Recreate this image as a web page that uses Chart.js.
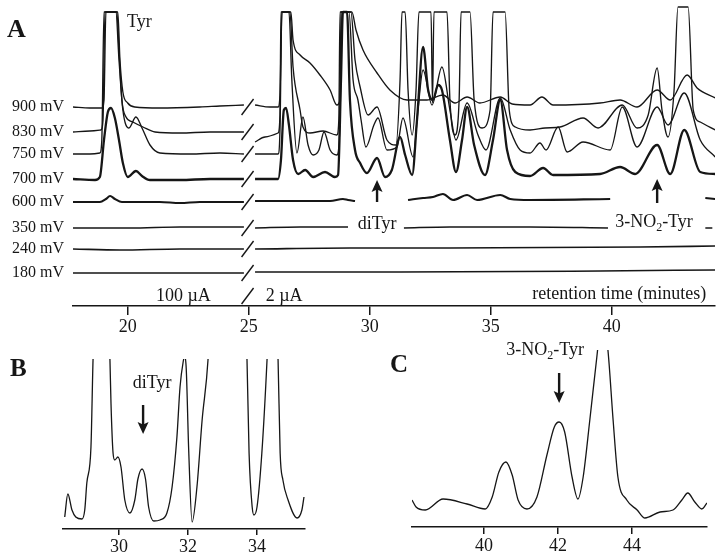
<!DOCTYPE html>
<html>
<head>
<meta charset="utf-8">
<script src="https://cdn.jsdelivr.net/npm/chart.js@4.4.1/dist/chart.umd.min.js"></script>
<style>
  html, body { margin: 0; padding: 0; background: #fff; }
  body { width: 720px; height: 556px; position: relative; overflow: hidden; }
  canvas { position: absolute; }
  #chartA { left: 0; top: 0; }
  #chartB { left: 0; top: 340px; }
  #chartC { left: 360px; top: 340px; }
</style>
</head>
<body>
<canvas id="chartA" width="720" height="340"></canvas>
<canvas id="chartB" width="360" height="216"></canvas>
<canvas id="chartC" width="360" height="216"></canvas>
<script>
// retention time (min) vs detector signal (arbitrary units, traces stacked)
// null = break in the trace (axis break / label gaps)

const ticksA = [20, 25, 30, 35, 40];
const ticksB = [30, 32, 34];
const ticksC = [40, 42, 44];

const traceLabels = ["900 mV", "830 mV", "750 mV", "700 mV", "600 mV", "350 mV", "240 mV", "180 mV"];
const baselines = [199, 174, 152, 127, 104, 78, 57, 33];

const tr900 = [[17.74,199],[18.44,198],[18.93,198],[19.02,206],[19.10,294],[19.59,294],[19.68,246],[19.80,214],[20.00,203],[20.29,199],[21.33,198],[22.98,199],[23.81,200],[24.80,201],[25.0,null],
  [25.26,201],[25.88,199],[26.21,199],[26.29,211],[26.37,294],[26.74,294],[26.83,266],[27.12,251],[27.53,243],[27.94,231],[28.36,216],[28.64,201],[28.77,206],[28.81,294],[29.26,294],[29.43,276],[29.72,256],[30.30,233],[30.83,216],[31.54,206],[32.36,206],[33.02,211],[33.52,203],[34.02,209],[34.55,203],[35.39,209],[35.88,202],[36.62,201],[37.11,209],[37.57,201],[39.51,203],[40.34,206],[41.04,199],[41.87,216],[42.41,206],[43.11,231],[43.52,218],[44.27,208]];

const tr830 = [[17.74,174],[18.44,175],[18.89,176],[18.98,186],[19.06,294],[19.55,294],[19.64,256],[19.76,206],[19.93,189],[20.21,184],[20.63,179],[21.13,174],[22.16,173],[23.40,174],[24.80,174],[25.0,null],
  [25.26,164],[25.67,169],[26.21,173],[26.29,191],[26.33,294],[26.70,294],[26.83,239],[27.12,196],[27.24,179],[27.53,173],[28.07,175],[28.64,171],[28.72,186],[28.77,294],[29.22,294],[29.39,246],[29.60,219],[29.93,191],[30.30,199],[30.71,166],[31.08,161],[31.25,226],[31.33,294],[31.46,294],[31.58,216],[31.75,171],[31.91,216],[32.03,294],[32.53,294],[32.59,203],[32.65,294],[33.19,294],[33.31,206],[33.52,171],[33.69,206],[33.77,294],[34.14,294],[34.31,206],[34.64,178],[34.97,196],[35.09,294],[35.59,294],[35.76,196],[36.01,179],[36.62,176],[37.24,178],[37.86,179],[38.81,188],[39.43,178],[40.43,201],[41.04,178],[41.50,191],[41.87,238],[42.07,196],[42.32,169],[42.57,216],[42.73,299],[43.15,299],[43.36,196],[43.65,184],[44.27,176]];

const tr750 = [[17.74,152],[18.44,152],[18.85,153],[18.93,166],[19.02,294],[19.51,294],[19.64,246],[19.80,196],[20.05,178],[20.34,189],[20.59,178],[20.92,161],[21.33,153],[22.57,152],[23.81,153],[24.80,152],[25.0,null],
  [25.26,152],[26.21,152],[26.29,176],[26.37,294],[26.66,294],[26.78,226],[26.99,153],[27.24,189],[27.45,161],[27.66,151],[27.90,156],[28.11,174],[28.36,156],[28.64,151],[28.77,186],[28.85,294],[29.14,294],[29.31,226],[29.51,206],[29.64,186],[29.84,159],[30.17,181],[30.34,188],[30.71,156],[31.12,159],[31.37,188],[31.79,149],[31.99,196],[32.20,236],[32.57,201],[32.98,239],[33.31,196],[33.56,166],[34.02,203],[34.47,171],[34.80,156],[35.39,208],[35.80,176],[36.21,156],[36.62,153],[37.03,163],[37.28,156],[37.78,179],[38.15,154],[38.81,164],[39.93,156],[40.43,199],[41.04,159],[41.87,199],[42.32,181],[42.99,213],[43.65,166],[44.27,149]];

const tr700 = [[17.74,127],[18.65,126],[18.85,129],[19.02,166],[19.18,194],[19.31,198],[19.47,188],[19.64,166],[19.80,143],[20.00,129],[20.34,135],[20.59,130],[20.92,126],[22.16,126],[23.40,127],[24.80,127],[25.0,null],
  [25.26,127],[26.21,127],[26.33,146],[26.45,196],[26.54,198],[26.66,181],[26.83,146],[27.04,132],[27.33,136],[27.66,129],[28.15,134],[28.56,129],[28.69,131],[28.81,226],[28.89,294],[29.06,294],[29.18,206],[29.39,156],[29.60,143],[29.88,133],[30.30,148],[30.63,129],[30.91,136],[31.25,169],[31.46,151],[31.75,131],[31.95,186],[32.20,259],[32.41,216],[32.61,206],[32.82,221],[32.98,216],[33.31,166],[33.56,134],[33.81,166],[34.02,199],[34.31,161],[34.76,131],[35.09,166],[35.39,206],[35.67,156],[36.01,134],[36.62,130],[37.16,138],[37.57,131],[39.51,132],[40.34,139],[40.96,132],[41.87,161],[42.41,132],[42.99,176],[43.65,134],[44.27,132]];

const tr600 = [[17.74,104],[18.85,104],[19.10,107],[19.27,110],[19.47,107],[19.76,104],[21.33,104],[22.16,103],[22.98,104],[24.80,104],[25.0,null],
  [25.26,105],[27.12,105],[28.36,105],[28.89,107],[29.10,106],[29.39,105],[30.0,null],
  [31.58,106],[32.20,108],[32.61,109],[33.02,112],[33.44,106],[34.02,111],[34.43,106],[35.39,111],[35.80,107],[36.62,106],[39.93,107],[42.0,null],
  [43.86,108],[44.27,107]];

const tr350 = [[17.74,78],[20.09,78],[22.16,79],[24.80,79],[25.0,null],[25.26,78],[27.12,79],[29.10,79],[30.0,null],[31.41,78],[33.31,79],[36.62,79],[39.84,78],[42.0,null],[43.86,78],[44.15,78]];
const tr240 = [[17.74,57],[19.68,56],[22.16,57],[24.80,57],[25.0,null],[25.26,57],[29.18,58],[33.31,58],[41.17,59],[44.27,60]];
const tr180 = [[17.74,33],[20.92,33],[24.80,33],[25.0,null],[25.26,34],[31.25,34],[39.51,35],[44.27,36]];

// panel B: expanded view around diTyr (peaks run off the top)
const trB = [[28.43,12],[28.52,35],[28.64,19],[28.75,12],[28.93,10],[29.01,19],[29.07,46],[29.19,82],[29.25,169],[29.35,260],[29.5,300],[29.65,260],[29.74,169],[29.77,126],[29.83,76],[29.88,69],[29.97,72],[30.06,62],[30.17,29],[30.32,16],[30.46,29],[30.55,50],[30.67,60],[30.77,50],[30.86,22],[31.01,8],[31.19,9],[31.39,16],[31.54,42],[31.68,92],[31.77,142],[31.86,167],[31.90,172],[31.95,160],[32.02,80],[32.12,7],[32.26,42],[32.41,109],[32.58,169],[32.7,260],[33.1,300],[33.6,260],[33.71,169],[33.77,76],[33.86,22],[33.91,14],[34.0,22],[34.14,76],[34.29,169],[34.4,260],[34.5,260],[34.61,169],[34.67,76],[34.75,49],[34.90,29],[35.16,11],[35.30,19],[35.36,32]];

// panel C: expanded view around 3-NO2-Tyr
const trC = [[38.05,27],[38.16,20],[38.41,17],[38.89,28],[39.54,23],[40.03,18],[40.22,30],[40.40,55],[40.59,65],[40.76,52],[40.92,27],[41.16,18],[41.43,30],[41.70,72],[41.90,100],[42.03,105],[42.18,95],[42.38,50],[42.54,28],[42.68,50],[42.86,107],[43.05,170],[43.2,215],[43.35,177],[43.49,107],[43.62,50],[43.86,27],[44.14,17],[44.35,9],[44.76,15],[45.11,17],[45.35,27],[45.51,34],[45.70,25],[45.89,18],[46.03,24]];

const SERIF = "'Liberation Serif', 'Times New Roman', serif";
const INK = "#161616";

const toXY = (arr) => arr.map(([x, y]) => ({ x: x, y: y }));

function line(data, width) {
  return {
    data: toXY(data),
    borderColor: INK,
    borderWidth: width,
    pointRadius: 0,
    fill: false,
    cubicInterpolationMode: "monotone",
    spanGaps: false,
  };
}

function text(ctx, str, x, y, size, align, bold) {
  ctx.save();
  ctx.font = (bold ? "bold " : "") + size + "px " + SERIF;
  ctx.fillStyle = INK;
  ctx.textAlign = align || "left";
  ctx.textBaseline = "middle";
  ctx.fillText(str, x, y);
  ctx.restore();
}

// "3-NO2-Tyr" with a subscript 2
function nitroLabel(ctx, cx, cy, size) {
  ctx.save();
  ctx.fillStyle = INK;
  ctx.textBaseline = "middle";
  ctx.textAlign = "left";
  const big = size + "px " + SERIF;
  const small = Math.round(size * 0.68) + "px " + SERIF;
  ctx.font = big;
  const w1 = ctx.measureText("3-NO").width;
  const w3 = ctx.measureText("-Tyr").width;
  ctx.font = small;
  const w2 = ctx.measureText("2").width;
  let x = cx - (w1 + w2 + w3) / 2;
  ctx.font = big;
  ctx.fillText("3-NO", x, cy);
  x += w1;
  ctx.font = small;
  ctx.fillText("2", x, cy + size * 0.3);
  x += w2;
  ctx.font = big;
  ctx.fillText("-Tyr", x, cy);
  ctx.restore();
}

function arrow(ctx, x, yTail, yTip) {
  const dir = yTip < yTail ? -1 : 1;
  ctx.save();
  ctx.strokeStyle = INK;
  ctx.fillStyle = INK;
  ctx.lineWidth = 2.4;
  ctx.beginPath();
  ctx.moveTo(x, yTail);
  ctx.lineTo(x, yTip - dir * 7);
  ctx.stroke();
  ctx.beginPath();
  ctx.moveTo(x, yTip);
  ctx.lineTo(x - 5.5, yTip - dir * 12);
  ctx.lineTo(x, yTip - dir * 9.5);
  ctx.lineTo(x + 5.5, yTip - dir * 12);
  ctx.closePath();
  ctx.fill();
  ctx.restore();
}

function slash(ctx, cx, cy) {
  ctx.save();
  ctx.strokeStyle = INK;
  ctx.lineWidth = 1.4;
  ctx.beginPath();
  ctx.moveTo(cx - 6, cy + 8);
  ctx.lineTo(cx + 6, cy - 8);
  ctx.stroke();
  ctx.restore();
}

function xAxis(min, max, ticks, tickLen, height) {
  return {
    type: "linear",
    min: min,
    max: max,
    afterBuildTicks: (s) => { s.ticks = ticks.map((v) => ({ value: v })); },
    afterFit: (s) => { s.height = height; },
    grid: { drawOnChartArea: false, drawTicks: true, tickLength: tickLen, color: INK, lineWidth: 1.5 },
    border: { display: true, color: INK, width: 1.5 },
    ticks: { color: INK, font: { family: SERIF, size: 18 }, padding: 1, maxRotation: 0, autoSkip: false },
  };
}

function baseOptions(padding, x, yMax) {
  return {
    responsive: false,
    animation: false,
    layout: { padding: padding },
    plugins: { legend: { display: false }, tooltip: { enabled: false } },
    scales: { x: x, y: { display: false, min: 0, max: yMax } },
  };
}

// ---- panel A
const annotateA = {
  id: "annotateA",
  afterDraw(chart) {
    const ctx = chart.ctx;
    const xs = chart.scales.x;
    const ys = chart.scales.y;
    const left = chart.chartArea.left;
    const br = xs.getPixelForValue(24.95);

    traceLabels.forEach((lab, i) => {
      const y = ys.getPixelForValue(baselines[i]);
      text(ctx, lab, left - 9, y, 16, "right");
      slash(ctx, br, y);
    });
    slash(ctx, br, ys.getPixelForValue(10));

    text(ctx, "A", 7, 30, 26, "left", true);
    text(ctx, "Tyr", xs.getPixelForValue(19.97), ys.getPixelForValue(284), 18, "left");
    text(ctx, "100 \u00b5A", xs.getPixelForValue(22.3), ys.getPixelForValue(10), 18, "center");
    text(ctx, "2 \u00b5A", xs.getPixelForValue(25.7), ys.getPixelForValue(10), 18, "left");
    text(ctx, "retention time (minutes)", xs.getPixelForValue(43.9), ys.getPixelForValue(12), 18, "right");

    text(ctx, "diTyr", xs.getPixelForValue(30.3), ys.getPixelForValue(82), 18, "center");
    arrow(ctx, xs.getPixelForValue(30.3), ys.getPixelForValue(104), ys.getPixelForValue(126));
    nitroLabel(ctx, xs.getPixelForValue(41.74), ys.getPixelForValue(84), 18);
    arrow(ctx, xs.getPixelForValue(41.87), ys.getPixelForValue(103), ys.getPixelForValue(127));
  },
};

new Chart(document.getElementById("chartA"), {
  type: "line",
  data: {
    datasets: [
      line(tr900, 1.35), line(tr830, 1.35), line(tr750, 1.35), line(tr700, 2.3),
      line(tr600, 2.1), line(tr350, 1.5), line(tr240, 1.7), line(tr180, 1.5),
    ],
  },
  options: baseOptions({ left: 73, right: 5, top: 0, bottom: 0 }, xAxis(17.74, 44.26, ticksA, 9, 34), 306),
  plugins: [annotateA],
});

// ---- panel B
const annotateB = {
  id: "annotateB",
  afterDraw(chart) {
    const ctx = chart.ctx;
    const xs = chart.scales.x;
    const ys = chart.scales.y;
    text(ctx, "B", 10, 30, 25, "left", true);
    text(ctx, "diTyr", xs.getPixelForValue(30.96), ys.getPixelForValue(146), 18, "center");
    arrow(ctx, xs.getPixelForValue(30.7), ys.getPixelForValue(124), ys.getPixelForValue(95));
  },
};

new Chart(document.getElementById("chartB"), {
  type: "line",
  data: { datasets: [line(trB, 1.3)] },
  options: baseOptions({ left: 63, right: 55, top: 19, bottom: 0 }, xAxis(28.38, 35.39, ticksB, 6, 27), 170),
  plugins: [annotateB],
});

// ---- panel C
const annotateC = {
  id: "annotateC",
  afterDraw(chart) {
    const ctx = chart.ctx;
    const xs = chart.scales.x;
    const ys = chart.scales.y;
    text(ctx, "C", 30, 26, 25, "left", true);
    nitroLabel(ctx, xs.getPixelForValue(41.65), ys.getPixelForValue(177), 18);
    arrow(ctx, xs.getPixelForValue(42.03), ys.getPixelForValue(154), ys.getPixelForValue(124));
  },
};

new Chart(document.getElementById("chartC"), {
  type: "line",
  data: { datasets: [line(trC, 1.3)] },
  options: baseOptions({ left: 52, right: 13, top: 10, bottom: 0 }, xAxis(38.05, 46.03, ticksC, 7, 29), 177),
  plugins: [annotateC],
});
</script>
</body>
</html>
